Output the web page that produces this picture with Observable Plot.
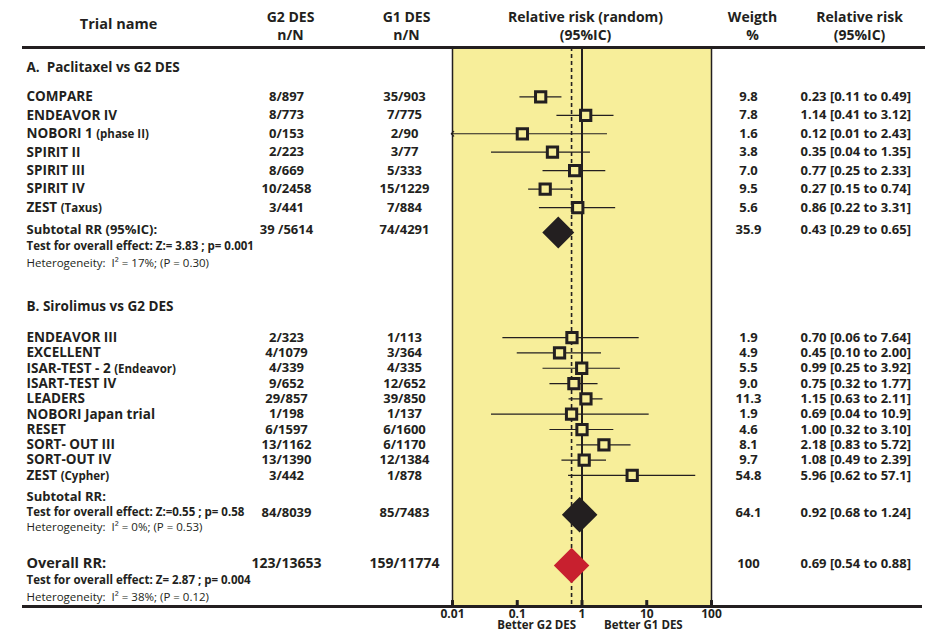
<!DOCTYPE html>
<html>
<head>
<meta charset="utf-8">
<script src="https://cdn.jsdelivr.net/npm/d3@7"></script>
<script src="https://cdn.jsdelivr.net/npm/@observablehq/plot@0.6"></script>
<style>
  html, body { margin: 0; padding: 0; background: #fff; }
  #chart { width: 947px; height: 643px; }
</style>
</head>
<body>
<div id="chart"></div>
<script>
// ---------- DATA ----------
const namesA   = ["COMPARE", "ENDEAVOR IV", "NOBORI 1 (phase II)", "SPIRIT II", "SPIRIT III", "SPIRIT IV", "ZEST (Taxus)"];
const g2A      = ["8/897", "8/773", "0/153", "2/223", "8/669", "10/2458", "3/441"];
const g1A      = ["35/903", "7/775", "2/90", "3/77", "5/333", "15/1229", "7/884"];
const weightA  = [9.8, 7.8, 1.6, 3.8, 7.0, 9.5, 5.6];
const rrA      = [0.23, 1.14, 0.12, 0.35, 0.77, 0.27, 0.86];
const loA      = [0.11, 0.41, 0.01, 0.04, 0.25, 0.15, 0.22];
const hiA      = [0.49, 3.12, 2.43, 1.35, 2.33, 0.74, 3.31];

const namesB   = ["ENDEAVOR III", "EXCELLENT", "ISAR-TEST - 2 (Endeavor)", "ISART-TEST IV", "LEADERS", "NOBORI Japan trial", "RESET", "SORT- OUT III", "SORT-OUT IV", "ZEST (Cypher)"];
const g2B      = ["2/323", "4/1079", "4/339", "9/652", "29/857", "1/198", "6/1597", "13/1162", "13/1390", "3/442"];
const g1B      = ["1/113", "3/364", "4/335", "12/652", "39/850", "1/137", "6/1600", "6/1170", "12/1384", "1/878"];
const weightB  = [1.9, 4.9, 5.5, 9.0, 11.3, 1.9, 4.6, 8.1, 9.7, 54.8];
const rrB      = [0.70, 0.45, 0.99, 0.75, 1.15, 0.69, 1.00, 2.18, 1.08, 5.96];
const loB      = [0.06, 0.10, 0.25, 0.32, 0.63, 0.04, 0.32, 0.83, 0.49, 0.62];
const hiB      = [7.64, 2.00, 3.92, 1.77, 2.11, 10.9, 3.10, 5.72, 2.39, 57.1];

const summaryLabels = ["Subtotal RR (95%IC):", "Subtotal RR:", "Overall RR:"];
const summaryG2     = ["39 /5614", "84/8039", "123/13653"];
const summaryG1     = ["74/4291", "85/7483", "159/11774"];
const summaryWeight = ["35.9", "64.1", "100"];
const summaryRR     = [0.43, 0.92, 0.69];
const summaryLo     = [0.29, 0.68, 0.54];
const summaryHi     = [0.65, 1.24, 0.88];
const testTexts     = ["Test for overall effect: Z:= 3.83 ; p= 0.001", "Test for overall effect: Z:=0.55 ; p= 0.58", "Test for overall effect: Z= 2.87 ; p= 0.004"];
const hetTexts      = ["Heterogeneity:  I² = 17%; (P = 0.30)", "Heterogeneity:  I² = 0%; (P = 0.53)", "Heterogeneity:  I² = 38%; (P = 0.12)"];

const sectionTitles = ["A.  Paclitaxel vs G2 DES", "B. Sirolimus vs G2 DES"];
const xTicks        = [0.01, 0.1, 1, 10, 100];
const xTickLabels   = ["0.01", "0.1", "1", "10", "100"];
const favourLabels  = ["Better G2 DES", "Better G1 DES"];
const headers       = ["Trial name", "G2 DES\nn/N", "G1 DES\nn/N", "Relative risk (random)\n(95%IC)", "Weigth\n%", "Relative risk\n(95%IC)"];
const pooledRR      = 0.69;

// ---------- LAYOUT (row slots in table-line units) ----------
const slotA0 = 2.65, stepA = 0.99;
const slotB0 = 15.57, stepB = 0.822;
const sectionSlots = [1.07, 13.9];
const summarySlots = [9.77, 24.96, 27.7];
const summaryLabelSlots = [9.77, 24.1, 27.7];
const diamondSlots = [9.93, 25.07, 27.8];
const testSlots = [10.68, 24.96, 28.61];
const hetSlots = [11.59, 25.76, 29.52];

const fmt = v => v >= 10 ? v.toFixed(1) : v.toFixed(2);
const trials = [
  ...namesA.map((n, i) => ({name: n, g2: g2A[i], g1: g1A[i], w: weightA[i].toFixed(1), rr: rrA[i], lo: loA[i], hi: hiA[i], y: slotA0 + i * stepA})),
  ...namesB.map((n, i) => ({name: n, g2: g2B[i], g1: g1B[i], w: weightB[i].toFixed(1), rr: rrB[i], lo: loB[i], hi: hiB[i], y: slotB0 + i * stepB}))
];
trials.forEach(d => d.label = `${fmt(d.rr)} [${fmt(d.lo)} to ${fmt(d.hi)}]`);
const summaries = summaryLabels.map((l, i) => ({
  label: l, g2: summaryG2[i], g1: summaryG1[i], w: summaryWeight[i],
  rr: summaryRR[i], text: `${fmt(summaryRR[i])} [${fmt(summaryLo[i])} to ${fmt(summaryHi[i])}]`,
  y: summarySlots[i], yl: summaryLabelSlots[i], yd: diamondSlots[i], yt: testSlots[i], yh: hetSlots[i]
}));

const INK = "#231f20", YELLOW = "#f7ee9a", RED = "#c8202f";
const FONT = "'Open Sans', 'Noto Sans', sans-serif";
const xMin = 0.01, xMax = 100;
const atFloor = trials.filter(d => d.lo <= xMin);
const inside = trials.filter(d => d.lo > xMin);

// column offsets from the frame edges (px)
const colName = -426, colG2 = -166, colG1 = -48, colW = 37, colRR = 89;

const boldCol = (data, text, y, anchor, dx, extra = {}) =>
  Plot.text(data, {text, y, frameAnchor: anchor, dx, fill: INK, fontWeight: "bold", fontSize: 13, textAnchor: "middle", ...extra});
const header = (label, anchor, dx) =>
  Plot.text([label], {text: d => d, y: -1.18, frameAnchor: anchor, dx, textAnchor: "middle", fill: INK, fontWeight: "bold", fontSize: 14, letterSpacing: -0.3, lineHeight: 1.28});

const chart = Plot.plot({
  width: 947, height: 643,
  marginLeft: 452, marginRight: 236, marginTop: 47, marginBottom: 37,
  x: {type: "log", domain: [xMin, xMax], axis: null},
  y: {domain: [0, 30], reverse: true, axis: null},
  style: {fontFamily: FONT, background: "#fff", overflow: "visible", color: INK},
  marks: [
    Plot.frame({fill: YELLOW, stroke: INK, strokeWidth: 1.5}),
    Plot.ruleX([pooledRR], {stroke: INK, strokeWidth: 1.6, strokeDasharray: "4,3"}),
    Plot.ruleX([1], {stroke: INK, strokeWidth: 2}),
    // confidence intervals
    Plot.ruleY(inside, {y: "y", x1: "lo", x2: "hi", stroke: INK, strokeWidth: 1.2}),
    Plot.link(atFloor, {x1: "hi", x2: "lo", y1: "y", y2: "y", stroke: INK, strokeWidth: 1.2, markerEnd: "arrow"}),
    // point estimates
    Plot.dot(trials, {x: "rr", y: "y", symbol: "square", r: 5.8, stroke: INK, strokeWidth: 3, fill: YELLOW}),
    // pooled diamonds
    Plot.dot(summaries.slice(0, 1), {x: "rr", y: "yd", symbol: "diamond2", r: 14.4, fill: INK}),
    Plot.dot(summaries.slice(1, 2), {x: "rr", y: "yd", symbol: "diamond2", r: 16, fill: INK}),
    Plot.dot(summaries.slice(2), {x: "rr", y: "yd", symbol: "diamond2", r: 16, fill: RED}),
    // header and axis rules
    Plot.ruleY([0], {stroke: INK, strokeWidth: 3, insetLeft: -430, insetRight: -214}),
    Plot.ruleY([30], {stroke: INK, strokeWidth: 3, insetLeft: -430, insetRight: -211}),
    Plot.ruleX(xTicks, {y1: 29.68, y2: 30, stroke: INK, strokeWidth: 3}),
    Plot.text(xTicks, {x: d => d, y: 30, dy: 3, text: (d, i) => xTickLabels[i], fill: INK, fontWeight: "bold", fontSize: 12, lineAnchor: "top"}),
    Plot.text([favourLabels[0]], {x: 1, y: 30, dx: -6, dy: 14, text: d => d, textAnchor: "end", lineAnchor: "top", fill: INK, fontWeight: "bold", fontSize: 11.5, letterSpacing: -0.2}),
    Plot.text([favourLabels[1]], {x: 1, y: 30, dx: 22, dy: 14, text: d => d, textAnchor: "start", lineAnchor: "top", fill: INK, fontWeight: "bold", fontSize: 11.5, letterSpacing: -0.2}),
    // headers
    Plot.text([headers[0]], {text: d => d, y: -1.25, frameAnchor: "left", dx: -334, textAnchor: "middle", fill: INK, fontWeight: "bold", fontSize: 14.5}),
    header(headers[1], "left", colG2 + 4),
    header(headers[2], "left", colG1 + 2),
    header(headers[3], "left", 133),
    header(headers[4], "right", 41),
    header(headers[5], "right", 148),
    // section titles
    Plot.text(sectionTitles, {text: d => d, y: (d, i) => sectionSlots[i], frameAnchor: "left", dx: colName, textAnchor: "start", fill: INK, fontWeight: "bold", fontSize: 13.5, letterSpacing: -1}),
    // trial rows
    Plot.text(trials, {text: "name", y: "y", frameAnchor: "left", dx: colName, textAnchor: "start", fill: INK, fontWeight: "bold", fontSize: 13.5, letterSpacing: -0.3}),
    boldCol(trials, "g2", "y", "left", colG2),
    boldCol(trials, "g1", "y", "left", colG1),
    boldCol(trials, "w", "y", "right", colW),
    boldCol(trials, "label", "y", "right", colRR, {textAnchor: "start", letterSpacing: -0.3}),
    // summaries
    Plot.text(summaries.slice(0, 2), {text: "label", y: "yl", frameAnchor: "left", dx: colName, textAnchor: "start", fill: INK, fontWeight: "bold", fontSize: 13, letterSpacing: -0.6}),
    Plot.text(summaries.slice(2), {text: "label", y: "yl", frameAnchor: "left", dx: colName, textAnchor: "start", fill: INK, fontWeight: "bold", fontSize: 14.5, letterSpacing: -0.5}),
    boldCol(summaries.slice(0, 2), "g2", "y", "left", colG2),
    boldCol(summaries.slice(0, 2), "g1", "y", "left", colG1),
    boldCol(summaries.slice(2), "g2", "y", "left", colG2, {fontSize: 14}),
    boldCol(summaries.slice(2), "g1", "y", "left", colG1, {fontSize: 14}),
    boldCol(summaries, "w", "y", "right", colW),
    boldCol(summaries, "text", "y", "right", colRR, {textAnchor: "start", letterSpacing: -0.3}),
    Plot.text(summaries, {text: (d, i) => testTexts[i], y: "yt", frameAnchor: "left", dx: colName, textAnchor: "start", fill: INK, fontWeight: "bold", fontSize: 11.5, letterSpacing: -1.1}),
    Plot.text(summaries, {text: (d, i) => hetTexts[i], y: "yh", frameAnchor: "left", dx: colName, textAnchor: "start", fill: INK, fontSize: 11.5, letterSpacing: -0.7})
  ]
});

// smaller type for the parenthetical part of trial names
const fullNames = new Set(trials.map(d => d.name).filter(n => /\s\(.+\)$/.test(n)));
chart.querySelectorAll("text").forEach(t => {
  const s = t.textContent;
  if (!fullNames.has(s)) return;
  const m = s.match(/^(.*?)\s(\(.+\))$/);
  t.textContent = m[1] + " ";
  const ts = document.createElementNS("http://www.w3.org/2000/svg", "tspan");
  ts.setAttribute("font-size", "11.5");
  ts.textContent = m[2];
  t.appendChild(ts);
});

document.getElementById("chart").appendChild(chart);
</script>
</body>
</html>
